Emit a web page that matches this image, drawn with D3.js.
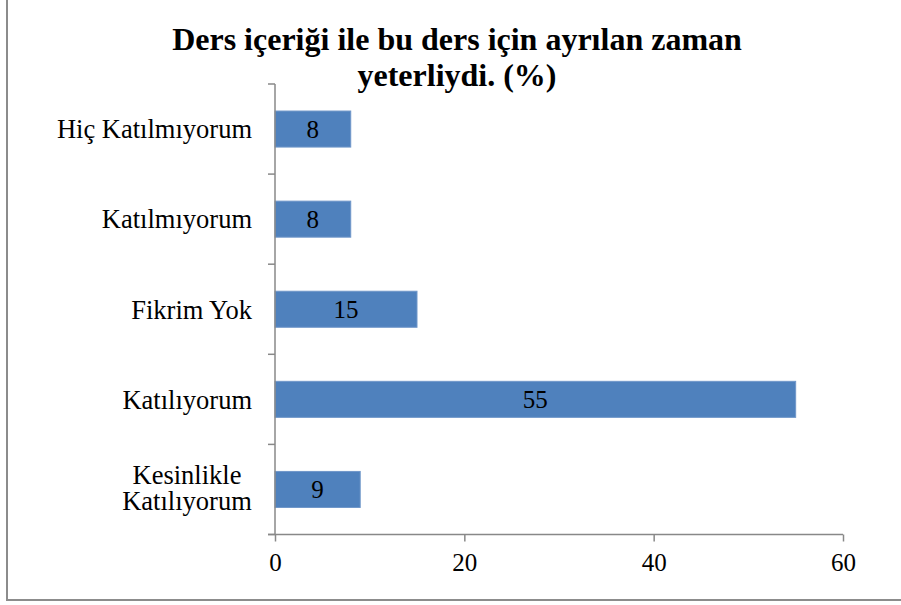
<!DOCTYPE html>
<html>
<head>
<meta charset="utf-8">
<script src="https://cdn.jsdelivr.net/npm/d3@7"></script>
<style>
  body { margin: 0; background: #fff; }
  svg text { font-family: "Liberation Serif", "Times New Roman", serif; fill: #000; }
</style>
</head>
<body>
<div id="chart"></div>
<script>
const categories = ['Hiç Katılmıyorum', 'Katılmıyorum', 'Fikrim Yok', 'Katılıyorum', 'Kesinlikle Katılıyorum'];
const values = [8, 8, 15, 55, 9];
const xTicks = [0, 20, 40, 60];
const titleLines = ['Ders içeriği ile bu ders için ayrılan zaman', 'yeterliydi. (%)'];

const width = 901, height = 605;
const plotLeft = 275, plotRight = 843, plotTop = 84, plotBottom = 534.5;

const svg = d3.select('#chart').append('svg')
  .attr('width', width)
  .attr('height', height);

// outer frame
svg.append('rect')
  .attr('x', 7).attr('y', -5)
  .attr('width', 905).attr('height', 605)
  .attr('fill', 'none')
  .attr('stroke', '#8c8c8c')
  .attr('stroke-width', 2);

// title
svg.append('text')
  .attr('text-anchor', 'middle')
  .attr('font-size', 32)
  .attr('font-weight', 'bold')
  .selectAll('tspan')
  .data(titleLines)
  .join('tspan')
  .attr('x', 457)
  .attr('y', (d, i) => 50 + i * 36)
  .text((d) => d);

const x = d3.scaleLinear().domain([0, 60]).range([plotLeft, plotRight]);
const y = d3.scaleBand()
  .domain(categories)
  .range([plotTop, plotBottom])
  .paddingInner(0.6)
  .paddingOuter(0.3);

// bars
svg.selectAll('rect.bar')
  .data(values)
  .join('rect')
  .attr('class', 'bar')
  .attr('x', x(0))
  .attr('y', (d, i) => y(categories[i]))
  .attr('width', (d) => x(d) - x(0))
  .attr('height', y.bandwidth())
  .attr('fill', '#4f81bd')
  .attr('stroke', '#7097c9')
  .attr('stroke-width', 1);

// value labels
svg.selectAll('text.val')
  .data(values)
  .join('text')
  .attr('class', 'val')
  .attr('x', (d) => (x(0) + x(d)) / 2)
  .attr('y', (d, i) => y(categories[i]) + y.bandwidth() / 2)
  .attr('dy', '0.35em')
  .attr('text-anchor', 'middle')
  .attr('font-size', 25)
  .text((d) => d);

// y axis
const yEdges = d3.range(categories.length + 1).map((i) => plotTop + i * (plotBottom - plotTop) / categories.length);
const axisColor = '#888';
svg.append('line')
  .attr('x1', plotLeft).attr('x2', plotLeft)
  .attr('y1', plotTop).attr('y2', plotBottom)
  .attr('stroke', axisColor).attr('stroke-width', 1.5);
svg.selectAll('line.ytick')
  .data(yEdges)
  .join('line')
  .attr('class', 'ytick')
  .attr('x1', plotLeft - 7).attr('x2', plotLeft)
  .attr('y1', (d) => d).attr('y2', (d) => d)
  .attr('stroke', axisColor).attr('stroke-width', 1.5);

// category labels
svg.selectAll('text.cat')
  .data(categories)
  .join('text')
  .attr('class', 'cat')
  .attr('font-size', 26.5)
  .each(function (d) {
    const t = d3.select(this);
    const cy = y(d) + y.bandwidth() / 2;
    if (d === 'Kesinlikle Katılıyorum') {
      t.attr('text-anchor', 'middle');
      ['Kesinlikle', 'Katılıyorum'].forEach((w, i) => {
        t.append('tspan')
          .attr('x', 187)
          .attr('y', cy - 15 + i * 26)
          .attr('dy', '0.35em')
          .text(w);
      });
    } else {
      t.attr('text-anchor', 'end')
        .attr('x', 252)
        .attr('y', cy)
        .attr('dy', '0.35em')
        .text(d);
    }
  });

// x axis
const xAxis = svg.append('g')
  .attr('transform', `translate(0,${plotBottom})`)
  .call(d3.axisBottom(x).tickValues(xTicks).tickSize(7).tickPadding(12).tickSizeOuter(0));
xAxis.select('.domain').attr('stroke', axisColor).attr('stroke-width', 1.5)
  .attr('d', `M${plotLeft - 7},0H${plotRight}`);
xAxis.selectAll('.tick line').attr('stroke', axisColor).attr('stroke-width', 1.5);
xAxis.selectAll('.tick text')
  .attr('font-size', 25)
  .attr('font-family', '"Liberation Serif", "Times New Roman", serif')
  .attr('fill', '#000');
</script>
</body>
</html>
